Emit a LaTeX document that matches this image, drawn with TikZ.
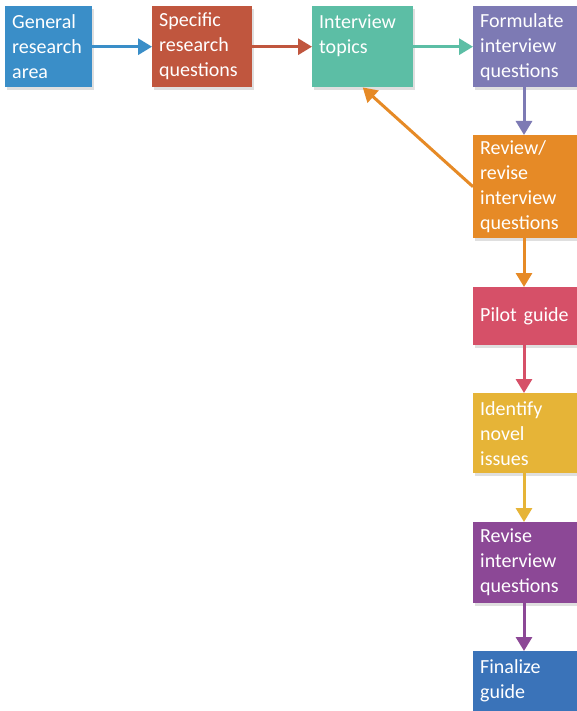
\documentclass[tikz,border=0pt]{standalone}
\usepackage{fontspec}
\setmainfont{Carlito}
\usetikzlibrary{arrows.meta,shadows}
\definecolor{genblue}{RGB}{58,142,200}
\definecolor{specred}{RGB}{192,86,62}
\definecolor{topteal}{RGB}{92,190,165}
\definecolor{formlav}{RGB}{125,122,180}
\definecolor{revorange}{RGB}{230,138,38}
\definecolor{pilotpink}{RGB}{214,80,104}
\definecolor{idyellow}{RGB}{230,180,55}
\definecolor{revpurple}{RGB}{140,72,150}
\definecolor{finblue}{RGB}{58,115,185}

\begin{document}
\begin{tikzpicture}[x=1pt,y=-1pt,
  box/.style={fill=#1, text=white, anchor=north west, align=left,
    inner xsep=7pt, inner ysep=0pt,
    font=\fontsize{20}{25}\selectfont,
    drop shadow={opacity=0.25, shadow xshift=2pt, shadow yshift=-3pt}},
  flow/.style={draw=#1, line width=3pt, -{Triangle[width=16pt,length=14pt]}}]
\useasboundingbox[fill=white] (0,0) rectangle (576,711);
% top row
\node[box=genblue, text width=73, minimum height=81] (gen) at (5,6) {General\\research\\area};
\node[box=specred, text width=86, minimum height=81] (spec) at (152,6) {Specific\\research\\questions};
\node[box=topteal, text width=87, minimum height=81] (topics) at (312,6) {Interview\\topics\\\phantom{x}};
\node[box=formlav, text width=96, minimum height=81] (form) at (473,6) {Formulate\\interview\\questions};
% right column
\node[box=revorange, text width=96, minimum height=103] (review) at (473,135) {Review/\\revise\\interview\\questions};
\node[box=pilotpink, text width=96, minimum height=58] (pilot) at (473,287) {Pilot guide};
\node[box=idyellow, text width=96, minimum height=80] (novel) at (473,393) {Identify\\novel\\issues};
\node[box=revpurple, text width=96, minimum height=81] (revise) at (473,522) {Revise\\interview\\questions};
\node[box=finblue, text width=96, minimum height=60] (final) at (473,651) {Finalize\\guide};
% connectors
\draw[flow=genblue] (gen) -- (spec);
\draw[flow=specred] (spec) -- (topics);
\draw[flow=topteal] (topics) -- (form);
\foreach \a/\b/\c in {form/review/formlav, review/pilot/revorange, pilot/novel/pilotpink,
                      novel/revise/idyellow, revise/final/revpurple}
  \draw[flow=\c] (\a.south -| 524,0) -- (\b.north -| 524,0);
\draw[flow=revorange] (review.west) -- (topics.south);
\end{tikzpicture}
\end{document}
